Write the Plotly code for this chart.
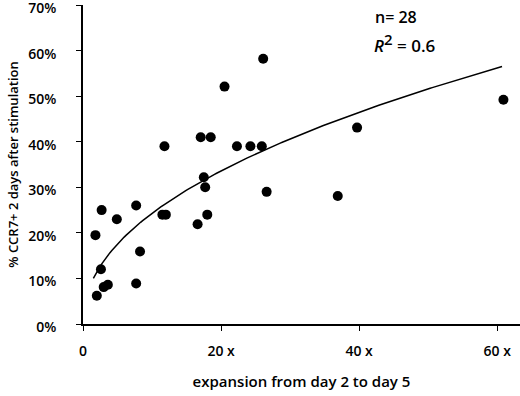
import numpy as np
import plotly.graph_objects as go

# expansion (fold) and % CCR7+ values
expansion = [11.8, 17.05, 18.5, 20.5, 17.5, 17.7, 22.3, 24.25, 25.9, 26.1,
             39.7, 60.9, 26.6, 36.9, 2.7, 7.7, 4.9, 1.8, 11.5, 12.0,
             16.6, 18.0, 8.26, 2.6, 2.0, 3.0, 3.6, 7.7]
ccr7_pct = [39.0, 41.0, 41.0, 52.1, 32.2, 30.0, 39.0, 39.0, 39.0, 58.2,
            43.1, 49.2, 29.0, 28.1, 25.0, 26.0, 23.0, 19.5, 24.0, 24.0,
            21.9, 24.0, 15.9, 12.0, 6.2, 8.1, 8.6, 8.9]

# power-law fit y = a * x^b (in %)
fit_a = 8.27
fit_b = 0.468
fit_x_min, fit_x_max = 1.5, 60.7

x_tick_vals = [0, 20, 40, 60]
x_tick_text = ["0", "20 x", "40 x", "60 x"]
y_tick_vals = [0, 10, 20, 30, 40, 50, 60, 70]
y_tick_text = [f"{v}%" for v in y_tick_vals]

fx = np.linspace(fit_x_min, fit_x_max, 200)
fy = fit_a * fx ** fit_b

FONT = "Open Sans"
L, T, R, B = 83, 5, 0, 72
W, H = 520, 396
PW, PH = W - L - R, H - T - B

fig = go.Figure()
fig.add_trace(go.Scatter(x=fx, y=fy, mode="lines",
                         line=dict(color="black", width=1.5),
                         hoverinfo="skip", showlegend=False))
fig.add_trace(go.Scatter(x=expansion, y=ccr7_pct, mode="markers",
                         marker=dict(color="black", size=10),
                         cliponaxis=False, showlegend=False))

tickfont = dict(family=FONT, size=14, color="black", weight=600)

fig.update_layout(
    width=W, height=H,
    margin=dict(l=L, r=R, t=T, b=B, autoexpand=False),
    paper_bgcolor="white", plot_bgcolor="white",
    font=dict(family=FONT, size=14, color="black"),
    xaxis=dict(range=[0, 63.3], showgrid=False, zeroline=False, automargin=False,
               showline=True, linecolor="black", linewidth=1.5,
               ticks="outside", ticklen=5, tickcolor="black",
               tickvals=x_tick_vals, ticktext=x_tick_text,
               ticklabelstandoff=8, tickfont=tickfont,
               title=dict(text="expansion from day 2 to day 5", standoff=18,
                          font=dict(family=FONT, size=15, color="black", weight=600))),
    yaxis=dict(range=[0, 70.01], showgrid=False, zeroline=False, automargin=False,
               showline=True, linecolor="black", linewidth=1.5,
               ticks="outside", ticklen=5, tickcolor="black",
               tickvals=y_tick_vals, ticktext=y_tick_text,
               ticklabelstandoff=17, tickfont=tickfont,
               ticklabeloverflow="allow", ticklabelshift=3,
               title=dict(text="% CCR7+ 2 days after stimulation", standoff=7,
                          font=dict(family=FONT, size=13, color="black", weight=600))),
    annotations=[
        dict(text="n= 28", xref="paper", yref="paper", x=(373 - L) / PW,
             y=(H - B - 17) / PH, xanchor="left", yanchor="middle",
             showarrow=False, font=dict(size=16, weight=600)),
        dict(text="<i>R</i><sup><span style='font-size:15px'>2</span></sup> = 0.6",
             xref="paper", yref="paper",
             x=(372 - L) / PW, y=(H - B - 43) / PH, xanchor="left",
             yanchor="middle", showarrow=False, font=dict(size=17, weight=600)),
    ],
)

fig.write_html("out.html", config={"displayModeBar": False},
               post_script="document.body.style.margin='0';document.body.style.overflow='hidden';")
